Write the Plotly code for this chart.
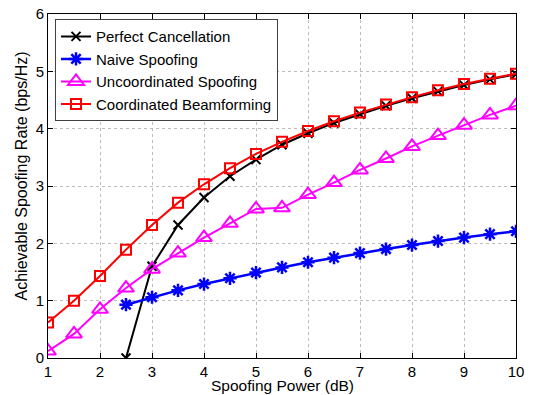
import plotly.graph_objects as go

x_all = [1, 1.5, 2, 2.5, 3, 3.5, 4, 4.5, 5, 5.5, 6, 6.5, 7, 7.5, 8, 8.5, 9, 9.5, 10]
x_late = [2.5, 3, 3.5, 4, 4.5, 5, 5.5, 6, 6.5, 7, 7.5, 8, 8.5, 9, 9.5, 10]

perfect = [0, 1.6, 2.32, 2.8, 3.17, 3.46, 3.72, 3.92, 4.1, 4.25, 4.4, 4.53, 4.65, 4.76, 4.86, 4.95]
naive = [0.93, 1.06, 1.18, 1.29, 1.39, 1.49, 1.58, 1.67, 1.75, 1.83, 1.90, 1.97, 2.04, 2.10, 2.16, 2.21]
uncoord = [0.12, 0.42, 0.85, 1.22, 1.55, 1.83, 2.1, 2.35, 2.6, 2.62, 2.85, 3.06, 3.28, 3.48, 3.69, 3.88, 4.06, 4.24, 4.4]
coord = [0.62, 1.0, 1.43, 1.89, 2.32, 2.71, 3.03, 3.31, 3.56, 3.77, 3.96, 4.13, 4.28, 4.42, 4.55, 4.67, 4.78, 4.87, 4.96]

x_title = "Spoofing Power (dB)"
y_title = "Achievable Spoofing Rate (bps/Hz)"

fig = go.Figure()
fig.add_trace(go.Scatter(x=x_late, y=perfect, name="Perfect Cancellation", mode="lines+markers",
                         line=dict(color="black", width=2),
                         marker=dict(symbol="x-thin", size=9, line=dict(color="black", width=2))))
fig.add_trace(go.Scatter(x=x_late, y=naive, name="Naive Spoofing", mode="lines+markers",
                         line=dict(color="blue", width=2.5),
                         marker=dict(symbol="asterisk", size=11, line=dict(color="blue", width=2.5))))
fig.add_trace(go.Scatter(x=x_all, y=uncoord, name="Uncoordinated Spoofing", mode="lines+markers",
                         line=dict(color="magenta", width=2),
                         marker=dict(symbol="triangle-up-open", size=14, color="magenta", line=dict(width=2))))
fig.add_trace(go.Scatter(x=x_all, y=coord, name="Coordinated Beamforming", mode="lines+markers",
                         line=dict(color="red", width=2),
                         marker=dict(symbol="square-open", size=10, color="red", line=dict(width=2))))

axis_common = dict(showline=True, linecolor="black", linewidth=1, mirror="ticks",
                   ticks="inside", ticklen=5, tickcolor="black",
                   showgrid=True, gridcolor="#bdbdbd", griddash="dot", gridwidth=1,
                   zeroline=False, tickfont=dict(size=15, color="black"),
                   automargin=False)

fig.update_layout(
    width=536, height=395,
    margin=dict(l=48, r=20, t=14, b=37),
    paper_bgcolor="white", plot_bgcolor="white",
    font=dict(family="Liberation Sans, Arial, sans-serif", color="black"),
    xaxis=dict(range=[1, 10], dtick=1, **axis_common),
    yaxis=dict(range=[0, 6], dtick=1, **axis_common),
    legend=dict(x=0.015, y=0.985, xanchor="left", yanchor="top",
                bgcolor="white", bordercolor="#404040", borderwidth=1,
                font=dict(size=15), tracegroupgap=0, itemwidth=30),
    annotations=[
        dict(text=x_title, x=0.5, y=-0.079, xref="paper", yref="paper",
             xanchor="center", yanchor="middle", showarrow=False, font=dict(size=15.5)),
        dict(text=y_title, x=-0.056, y=0.53, xref="paper", yref="paper", textangle=-90,
             xanchor="center", yanchor="middle", showarrow=False, font=dict(size=16)),
    ],
)

fig.write_html("out.html", config={"displayModeBar": False},
               post_script="document.body.style.margin='0';")
